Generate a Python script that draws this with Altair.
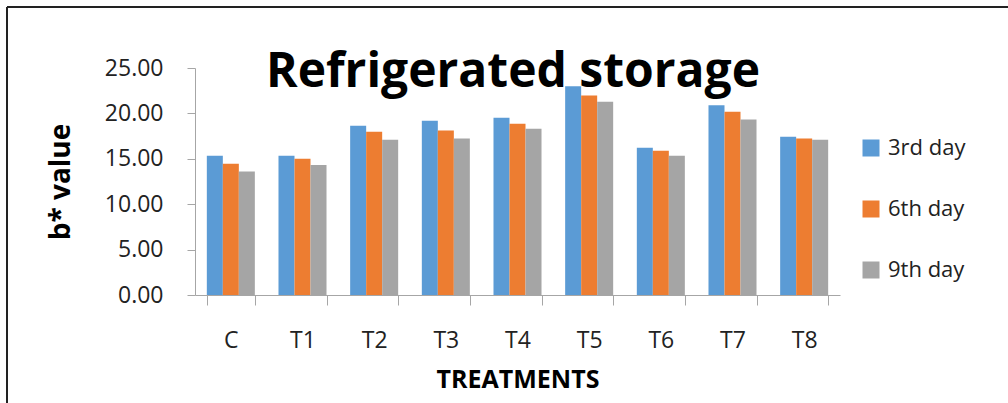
import altair as alt
import pandas as pd

# b* colour values per treatment, by storage day
treatments = ["C", "T1", "T2", "T3", "T4", "T5", "T6", "T7", "T8"]
days = ["3rd day", "6th day", "9th day"]
day3 = [15.33, 15.33, 18.64, 19.19, 19.52, 23.00, 16.22, 20.91, 17.43]
day6 = [14.45, 15.00, 17.98, 18.12, 18.86, 21.98, 15.89, 20.18, 17.24]
day9 = [13.61, 14.31, 17.10, 17.24, 18.31, 21.28, 15.34, 19.34, 17.10]
y_ticks = [0, 5, 10, 15, 20, 25]
colors = ["#5B9BD5", "#ED7D31", "#A5A5A5"]
chart_title = "Refrigerated storage"

rows = []
for series_name, series in zip(days, [day3, day6, day9]):
    for t, v in zip(treatments, series):
        rows.append({"treatment": t, "day": series_name, "value": v})
df = pd.DataFrame(rows)

FONT = "Open Sans"

bars = alt.Chart(df).mark_bar().encode(
    x=alt.X(
        "treatment:N",
        sort=treatments,
        scale=alt.Scale(paddingInner=0.33, paddingOuter=0.165),
        axis=alt.Axis(
            title="TREATMENTS",
            labelAngle=0,
            labelFont=FONT,
            labelFontSize=23,
            labelColor="#222222",
            labelPadding=24,
            tickBand="extent",
            tickSize=10,
            tickColor="#A6A6A6",
            domainColor="#A6A6A6",
            grid=False,
            titleFont=FONT,
            titleFontSize=25,
            titleFontWeight="bold",
            titleColor="#000000",
            titlePadding=15,
        ),
    ),
    xOffset=alt.XOffset("day:N", sort=days, scale=alt.Scale(paddingInner=0, paddingOuter=0)),
    y=alt.Y(
        "value:Q",
        scale=alt.Scale(domain=[0, 25], nice=False),
        axis=alt.Axis(
            title="b* value",
            values=y_ticks,
            format=".2f",
            grid=False,
            labelFont=FONT,
            labelFontSize=23,
            labelColor="#222222",
            labelPadding=24,
            tickSize=8,
            tickColor="#A6A6A6",
            domainColor="#A6A6A6",
            titleFont=FONT,
            titleFontSize=28,
            titleFontWeight="bold",
            titleColor="#000000",
            titlePadding=29,
        ),
    ),
    color=alt.Color(
        "day:N",
        sort=days,
        scale=alt.Scale(domain=days, range=colors),
        legend=alt.Legend(
            title=None,
            orient="none",
            legendX=665,
            legendY=69,
            symbolType="square",
            symbolSize=289,
            symbolStrokeWidth=0,
            labelFont=FONT,
            labelFontSize=22,
            labelColor="#222222",
            labelOffset=6,
            rowPadding=39,
            padding=0,
        ),
    ),
)

# chart heading, drawn over the top of the plot area
heading = alt.Chart(pd.DataFrame({"label": [chart_title]})).mark_text(
    font=FONT,
    fontSize=48,
    fontWeight="bold",
    color="#000000",
    align="center",
    baseline="alphabetic",
).encode(text="label:N", x=alt.value(318), y=alt.value(19))

# outer frame edges (top and left), one row each
frame = pd.DataFrame({"edge": ["top"]})
frame_top = alt.Chart(frame).mark_rule(color="#222222", strokeWidth=2).encode(
    x=alt.value(-188), x2=alt.value(813), y=alt.value(-61), y2=alt.value(-61)
)
frame_left = alt.Chart(frame).mark_rule(color="#222222", strokeWidth=2).encode(
    x=alt.value(-188), x2=alt.value(-188), y=alt.value(-61), y2=alt.value(335)
)

# plain white edges on the open top and right sides of the plot area
open_top = alt.Chart(frame).mark_rule(color="white", strokeWidth=3).encode(
    x=alt.value(1), x2=alt.value(647), y=alt.value(0), y2=alt.value(0)
)
open_right = alt.Chart(frame).mark_rule(color="white", strokeWidth=3).encode(
    x=alt.value(645), x2=alt.value(645), y=alt.value(-1), y2=alt.value(225)
)

chart = alt.layer(open_top, open_right, bars, heading, frame_top, frame_left).properties(
    width=645,
    height=227,
    background="white",
    autosize=alt.AutoSizeParams(type="none"),
    padding={"left": 195, "top": 68, "right": 168, "bottom": 108},
).configure_view(stroke=None)

chart.save("out.html", embed_options={"renderer": "svg", "actions": False})
